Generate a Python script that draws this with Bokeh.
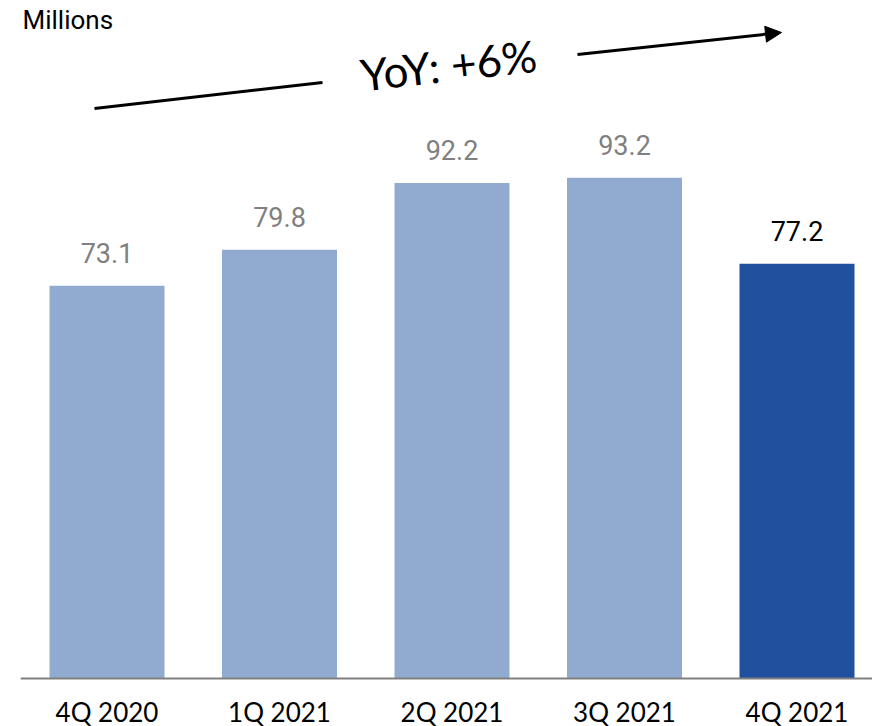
from bokeh.plotting import figure
from bokeh.models import Range1d, Label, Span, Arrow, NormalHead, ColumnDataSource
from bokeh.embed import file_html
from bokeh.resources import INLINE

categories = ["4Q 2020", "1Q 2021", "2Q 2021", "3Q 2021", "4Q 2021"]
values = [73.1, 79.8, 92.2, 93.2, 77.2]
bar_colors = ["#91AACF", "#91AACF", "#91AACF", "#91AACF", "#21519E"]
label_colors = ["#808080", "#808080", "#808080", "#808080", "#000000"]
yoy_text = "YoY: +6%"
unit_text = "Millions"

W, H = 872, 726
FRAME_L, BASE_PX = 20, 678
X0, DX = 106.5, 172.5          # px center of first bar, spacing
PX_PER_UNIT = 5.373


def dx(px):
    return (px - X0) / DX


def dy(py):
    return (BASE_PX - py) / PX_PER_UNIT


xs = list(range(len(categories)))
src = ColumnDataSource(dict(x=xs, top=values, base=[0] * len(xs), color=bar_colors,
                            cat=categories,
                            lab=[f"{v:.1f}" for v in values], lcolor=label_colors))

p = figure(width=W, height=H, output_backend="svg", toolbar_location=None,
           x_range=Range1d(dx(FRAME_L), dx(W)), y_range=Range1d(dy(H), dy(0)),
           min_border_left=FRAME_L, min_border_right=0, min_border_top=0,
           min_border_bottom=0)
p.outline_line_color = None
p.grid.visible = False
p.xaxis.visible = False
p.yaxis.visible = False
p.background_fill_color = "white"
p.border_fill_color = "white"

p.vbar(x="x", top="top", width=115 / DX, bottom=0, color="color", line_color=None, source=src)
p.text(x="x", y="top", text="lab", text_color="lcolor", source=src,
       text_align="center", text_baseline="alphabetic", y_offset=-33,
       text_font={"value": "Roboto"}, text_font_size={"value": "27px"})

# category axis: baseline rule + category labels
p.add_layout(Span(location=0, dimension="width", line_color="#808080", line_width=2))
p.text(x="x", y="base", text="cat", source=src, y_offset=33,
       text_align="center", text_baseline="middle", text_color="#000000",
       text_font={"value": "Lato"}, text_font_size={"value": "26px"})

p.add_layout(Label(x=dx(22), y=dy(19), text=unit_text, text_font="Roboto",
                   text_font_size="26px", text_color="#000000", text_baseline="alphabetic"))

p.add_layout(Label(x=dx(448), y=dy(64), text=yoy_text, text_font="Lato",
                   text_font_size="44px", text_color="#000000", angle=0.113,
                   text_align="center", text_baseline="middle"))

p.add_layout(Arrow(x_start=dx(94), y_start=dy(108), x_end=dx(322), y_end=dy(82),
                   line_width=3, line_color="black", end=None))
p.add_layout(Arrow(x_start=dx(577), y_start=dy(54), x_end=dx(781), y_end=dy(32),
                   line_width=3, line_color="black",
                   end=NormalHead(size=16, fill_color="black", line_color="black")))

open("out.html", "w").write(file_html(p, INLINE))
